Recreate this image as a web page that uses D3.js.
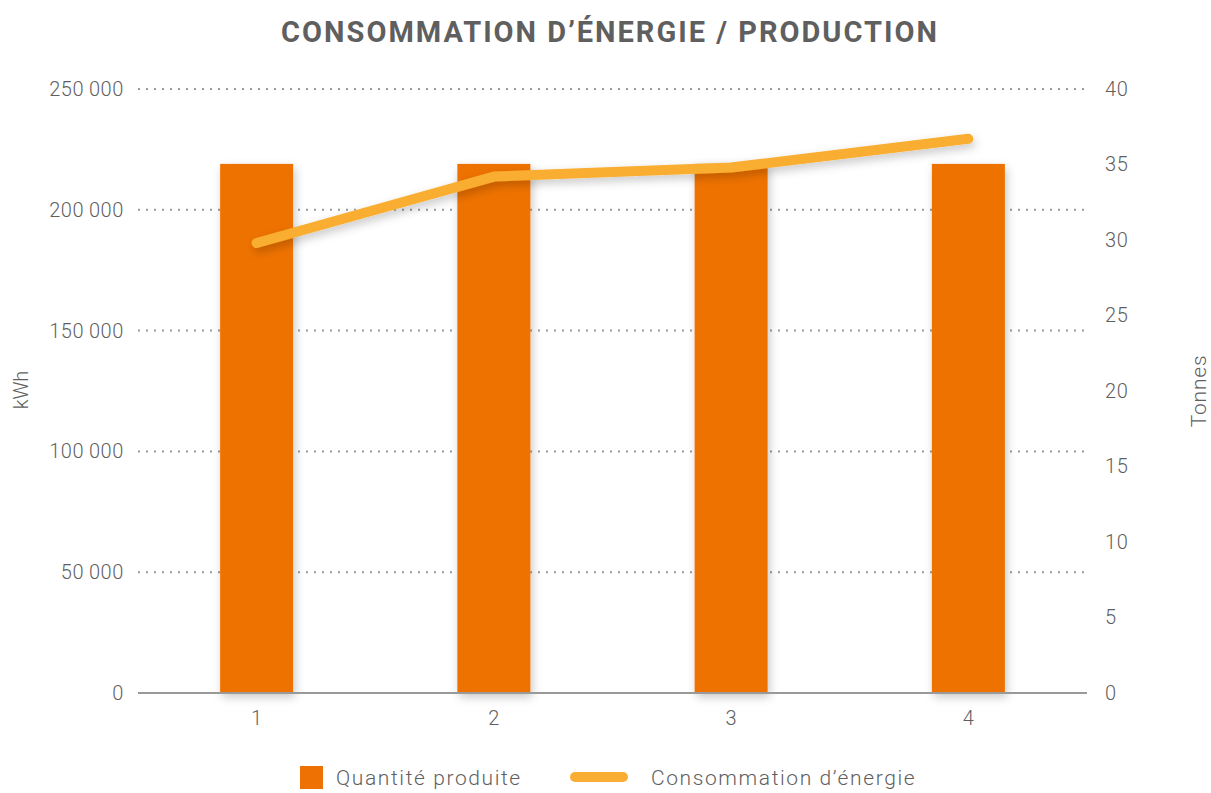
<html>
<head>
<meta charset="utf-8">
<script src="https://cdn.jsdelivr.net/npm/d3@7"></script>
<style>
  body { margin: 0; background: #fff; }
  text { font-family: Roboto, "Noto Sans", sans-serif; fill: #5f5f5f; }
</style>
</head>
<body>
<svg id="chart" width="1211" height="793"></svg>
<script>
// chart data
const categories = ["1", "2", "3", "4"];
const production = [219000, 219000, 219000, 219000];     // kWh, bars
const consommation = [29.8, 34.2, 34.8, 36.7];           // Tonnes, line
const leftTicks = [0, 50000, 100000, 150000, 200000, 250000];
const rightTicks = [0, 5, 10, 15, 20, 25, 30, 35, 40];

const svg = d3.select("#chart");
const margin = { top: 89, right: 124, bottom: 100, left: 138 };
const width = 1211, height = 793;

const x = d3.scaleBand()
    .domain(categories)
    .range([margin.left, width - margin.right]);

const yLeft = d3.scaleLinear().domain([0, 250000]).range([height - margin.bottom, margin.top]);
const yRight = d3.scaleLinear().domain([0, 40]).range([height - margin.bottom, margin.top]);

const fmt = v => d3.format(",")(v).replace(/,/g, "\u2009");

// shadow
const defs = svg.append("defs");
const f = defs.append("filter").attr("id", "shadow")
    .attr("x", "-30%").attr("y", "-30%").attr("width", "160%").attr("height", "160%");
f.append("feDropShadow").attr("dx", 2).attr("dy", 4).attr("stdDeviation", 5)
    .attr("flood-color", "#000").attr("flood-opacity", 0.22);

// title
svg.append("text")
    .attr("x", 610).attr("y", 42)
    .attr("text-anchor", "middle")
    .style("font-size", "29px").style("font-weight", "bold")
    .style("letter-spacing", "2px")
    .text("CONSOMMATION D\u2019ÉNERGIE / PRODUCTION");

// grid
svg.append("g").selectAll("line")
    .data(leftTicks.filter(d => d > 0))
    .join("line")
    .attr("x1", margin.left).attr("x2", width - margin.right)
    .attr("y1", d => yLeft(d)).attr("y2", d => yLeft(d))
    .attr("stroke", "#999").attr("stroke-width", 2)
    .attr("stroke-dasharray", "2,6");

// left axis
const axL = svg.append("g")
    .attr("transform", `translate(${margin.left},0)`)
    .call(d3.axisLeft(yLeft).tickValues(leftTicks).tickFormat(fmt).tickSize(0).tickPadding(14));
axL.select(".domain").remove();
axL.selectAll("text").style("font-size", "20px").style("fill", "#5f5f5f")
    .style("font-family", "Roboto, sans-serif").style("font-weight", 300)
    .style("letter-spacing", "0.6px");

// right axis
const axR = svg.append("g")
    .attr("transform", `translate(${width - margin.right},0)`)
    .call(d3.axisRight(yRight).tickValues(rightTicks).tickSize(0).tickPadding(18));
axR.select(".domain").remove();
axR.selectAll("text").style("font-size", "20px").style("fill", "#5f5f5f")
    .style("font-family", "Roboto, sans-serif").style("font-weight", 300)
    .style("letter-spacing", "0.6px");

// bars
svg.append("g").selectAll("rect")
    .data(production)
    .join("rect")
    .attr("x", (d, i) => x(categories[i]) + x.bandwidth() / 2 - 36.5)
    .attr("width", 73)
    .attr("y", d => yLeft(d))
    .attr("height", d => yLeft(0) - yLeft(d))
    .attr("fill", "#ee7203")
    .attr("filter", "url(#shadow)");

// baseline
svg.append("line")
    .attr("x1", margin.left).attr("x2", width - margin.right)
    .attr("y1", yLeft(0)).attr("y2", yLeft(0))
    .attr("stroke", "#999").attr("stroke-width", 2);

// x axis labels
const axX = svg.append("g")
    .attr("transform", `translate(0,${yLeft(0)})`)
    .call(d3.axisBottom(x).tickSize(0).tickPadding(18));
axX.select(".domain").remove();
axX.selectAll("text").style("font-size", "20px").style("fill", "#5f5f5f")
    .style("font-family", "Roboto, sans-serif").style("font-weight", 300);

// line
const line = d3.line()
    .x((d, i) => x(categories[i]) + x.bandwidth() / 2)
    .y(d => yRight(d));
svg.append("path")
    .datum(consommation)
    .attr("d", line)
    .attr("fill", "none")
    .attr("stroke", "#f9ae33")
    .attr("stroke-width", 10)
    .attr("stroke-linecap", "round")
    .attr("stroke-linejoin", "round")
    .attr("filter", "url(#shadow)");

// axis titles
svg.append("text")
    .attr("transform", "translate(28,390) rotate(-90)")
    .attr("text-anchor", "middle")
    .style("font-size", "20px").style("font-weight", 300)
    .text("kWh");
svg.append("text")
    .attr("transform", "translate(1206,391) rotate(-90)")
    .attr("text-anchor", "middle")
    .style("font-size", "21px").style("font-weight", 300)
    .style("letter-spacing", "0.8px")
    .text("Tonnes");

// legend
const lg = svg.append("g");
lg.append("rect").attr("x", 300).attr("y", 766).attr("width", 23).attr("height", 23).attr("fill", "#ee7203");
lg.append("text").attr("x", 336).attr("y", 785).style("font-size", "21px").style("font-weight", 300)
    .style("letter-spacing", "1.6px")
    .text("Quantité produite");
lg.append("line").attr("x1", 575).attr("x2", 623).attr("y1", 777).attr("y2", 777)
    .attr("stroke", "#f9ae33").attr("stroke-width", 10).attr("stroke-linecap", "round");
lg.append("text").attr("x", 651).attr("y", 785).style("font-size", "21px").style("font-weight", 300)
    .style("letter-spacing", "1.6px")
    .text("Consommation d\u2019énergie");
</script>
</body>
</html>
